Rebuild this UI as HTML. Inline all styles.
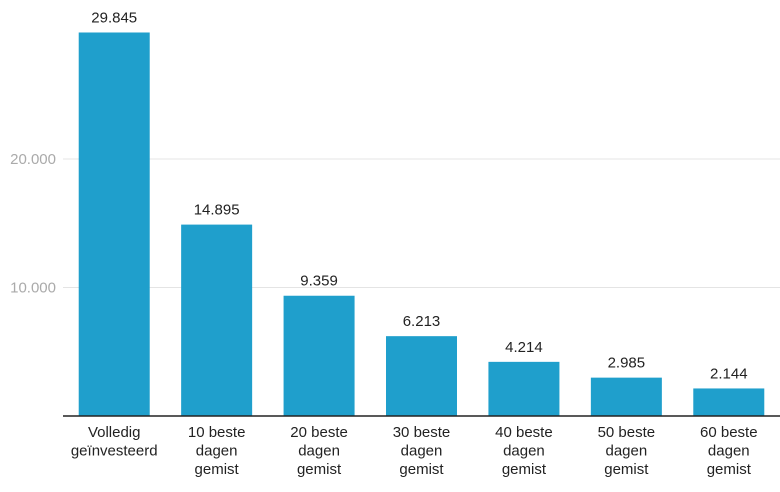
<!DOCTYPE html>
<html><head><meta charset="utf-8"><style>
html,body{margin:0;padding:0;background:#fff;}
svg{display:block;font-family:"Liberation Sans",sans-serif;}
</style></head><body>
<svg id="chart" width="780" height="492" viewBox="0 0 780 492"></svg>
<script>
const categories = [["Volledig","geïnvesteerd"],["10 beste","dagen","gemist"],["20 beste","dagen","gemist"],["30 beste","dagen","gemist"],["40 beste","dagen","gemist"],["50 beste","dagen","gemist"],["60 beste","dagen","gemist"]];
const values = [29845,14895,9359,6213,4214,2985,2144];
const valueLabels = ["29.845","14.895","9.359","6.213","4.214","2.985","2.144"];
const yTicks = [10000,20000];
const yTickLabels = ["10.000","20.000"];

const NS="http://www.w3.org/2000/svg";
const svg=document.getElementById('chart');
const x0=63,x1=780,y0=416,pxPer=128.5/10000;
const band=(x1-x0)/values.length, barW=71;
const y=v=>y0-v*pxPer;
const xc=i=>x0+band*i+band/2;
function mk(tag,attrs,text){const e=document.createElementNS(NS,tag);for(const k in attrs)e.setAttribute(k,attrs[k]);if(text!=null)e.textContent=text;svg.appendChild(e);return e;}

yTicks.forEach((t,i)=>{
  const g=mk('line',{x1:x0,x2:x1,y1:y(t),y2:y(t),stroke:'#e4e4e4','stroke-width':1});
  
  
  const l=mk('text',{x:56,y:y(t)+5,'text-anchor':'end','font-size':15,fill:'#aaaaaa'},yTickLabels[i]);
  
  
});

values.forEach((v,i)=>{
  const b=mk('rect',{x:xc(i)-barW/2,y:y(v),width:barW,height:y0-y(v),fill:'#1f9fcc'});
  
  
  const t=mk('text',{x:xc(i),y:y(v)-10,'text-anchor':'middle','font-size':15,fill:'#222'},valueLabels[i]);
  
  
  categories[i].forEach((ln,j)=>{
    const c=mk('text',{x:xc(i),y:437+j*18.5,'text-anchor':'middle','font-size':15,fill:'#222'},ln);
    
    
  });
});

const ax=mk('line',{x1:x0,x2:x1,y1:y0,y2:y0,stroke:'#222','stroke-width':1.5});


</script>
</body></html>
